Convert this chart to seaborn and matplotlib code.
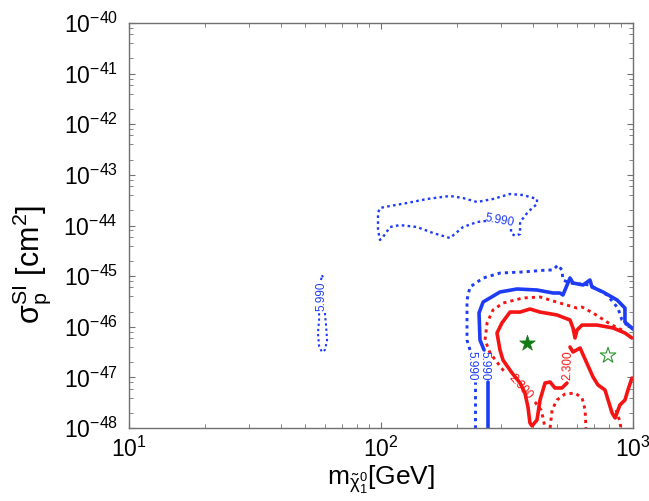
import numpy as np
import matplotlib
matplotlib.use("Agg")
import matplotlib.pyplot as plt
from matplotlib.ticker import LogLocator, LogFormatterMathtext
import seaborn as sns

# ---- contour traces: neutralino mass [GeV] and SI cross-section [cm^2] ----
# blue dotted island around 1e-44 (label 5.990)
island_m = [261.1, 240.4, 211.6, 187.8, 160.8, 139.0, 118.9, 108.6, 101.9, 99.1,
            97.3, 97.3, 99.1, 108.6, 126.8, 152.3, 187.8, 211.6, 240.4, 278.1,
            325.1, 365.9, 415.9, 415.9, 383.0, 356.4, 356.4, 340.4, 328.1, 328.1]
island_s = [1.23e-44, 1.17e-44, 9.33e-45, 5.66e-45, 7.11e-45, 9.33e-45, 1.02e-44, 9.33e-45, 5.93e-45, 5.18e-45,
            8.15e-45, 1.77e-44, 2.22e-44, 2.43e-44, 2.78e-44, 3.34e-44, 3.83e-44, 3.49e-44, 2.91e-44, 3.34e-44,
            4.19e-44, 4.00e-44, 3.34e-44, 2.66e-44, 1.85e-44, 1.17e-44, 6.79e-45, 6.21e-45, 7.11e-45, 9.33e-45]

# small blue dotted island near 60 GeV
sliver_m = [59.9, 60.5, 61.1, 59.9, 58.3, 56.8, 56.2, 56.8, 56.8]
sliver_s = [1.87e-46, 1.08e-46, 5.47e-47, 3.48e-47, 3.17e-47, 4.17e-47, 7.53e-47, 1.36e-46, 1.87e-46]
sliver_cap_m = [57.8, 58.3, 59.4]
sliver_cap_s = [8.38e-46, 1.05e-45, 8.38e-46]

# blue dotted, large region (two pieces either side of its label)
bdot_low_m = [236.1, 236.1]
bdot_low_s = [1.0e-48, 8.10e-48]
bdot_m = [225.5, 219.4, 219.4, 225.5, 254.2, 296.6, 365.9, 456.0, 481.9, 503.6,
          522.4, 527.2, 562.3, 674.8, 788.8, 871.6, 903.7, 946.2, 1000.0]
bdot_s = [3.48e-47, 5.47e-47, 3.37e-46, 6.10e-46, 9.18e-46, 1.15e-45, 1.21e-45, 1.32e-45, 1.32e-45, 1.66e-45,
          1.32e-45, 8.38e-46, 7.31e-46, 6.68e-46, 4.24e-46, 2.34e-46, 1.36e-46, 1.08e-46, 9.45e-47]

# blue solid
bsol_low_m = [265.9, 265.9]
bsol_low_s = [1.0e-48, 8.10e-48]
bsol_m = [256.4, 247.1, 244.9, 254.2, 296.6, 346.7, 415.9, 481.9, 512.9, 527.2,
          562.3, 578.0, 633.8, 674.8, 687.5, 760.3, 865.0, 929.0, 929.0, 1000.0]
bsol_s = [3.48e-47, 5.47e-47, 1.87e-46, 3.08e-46, 4.86e-46, 5.57e-46, 5.32e-46, 4.64e-46, 4.64e-46, 4.24e-46,
          9.18e-46, 7.31e-46, 6.68e-46, 8.38e-46, 6.10e-46, 4.86e-46, 3.37e-46, 2.34e-46, 1.24e-46, 9.0e-47]

# red dotted (label 2.300)
rdot_m = [903.7, 826.0, 788.8, 693.9, 628.0, 599.7, 512.9, 427.6, 365.9, 304.8,
          278.1, 263.6, 258.7, 270.9, 304.8, 316.2]
rdot_s = [8.63e-47, 1.08e-46, 1.24e-46, 1.87e-46, 2.45e-46, 2.34e-46, 2.94e-46, 3.87e-46, 3.70e-46, 2.94e-46,
          2.14e-46, 1.19e-46, 5.47e-47, 3.03e-47, 1.40e-47, 1.22e-47]
rdot_tail_m = [408.3, 431.5, 439.6, 447.7]
rdot_tail_s = [3.27e-48, 2.27e-48, 1.58e-48, 1.0e-48]
rdot_arch_m = [468.8, 477.5, 499.0, 537.0, 588.8, 628.0, 645.6, 650.5]
rdot_arch_s = [1.0e-48, 2.27e-48, 3.57e-48, 4.69e-48, 4.91e-48, 3.91e-48, 2.27e-48, 1.0e-48]
rdot_edge_m = [857.0, 883.0, 895.5]
rdot_edge_s = [2.27e-48, 1.44e-48, 1.0e-48]

# red solid (label 2.300)
rsol_m = [547.0, 522.4, 490.0, 468.8, 447.7, 427.6, 415.9, 397.3, 390.0, 383.0,
          372.5, 356.4, 331.1, 304.8, 296.6, 288.6, 302.0, 325.1, 356.4, 390.0,
          427.6, 499.0, 562.3, 578.0, 588.8, 599.7, 628.0, 719.5, 833.7, 929.0, 990.8]
rsol_s = [7.74e-48, 6.17e-48, 6.17e-48, 8.10e-48, 7.74e-48, 3.57e-48, 1.44e-48, 1.10e-48, 1.26e-48, 2.60e-48,
          4.91e-48, 7.74e-48, 1.22e-47, 2.20e-47, 3.48e-47, 7.53e-47, 1.19e-46, 1.95e-46, 1.95e-46, 2.24e-46,
          1.95e-46, 1.71e-46, 1.36e-46, 9.45e-47, 6.0e-47, 8.63e-47, 1.08e-46, 1.08e-46, 9.45e-47, 7.53e-47, 6.0e-47]
rsol_b_m = [562.3, 578.0, 616.6, 693.9, 726.1, 774.4, 826.0, 849.2, 887.2, 929.0, 955.0, 990.8]
rsol_b_s = [3.98e-47, 3.17e-47, 3.80e-47, 1.02e-47, 7.07e-48, 5.63e-48, 1.98e-48, 1.58e-48, 2.85e-48, 3.57e-48,
            5.63e-48, 9.72e-48]

# benchmark points
best_m, best_s = [379.6], [4.78e-47]
alt_m, alt_s = [796.0], [2.70e-47]

# contour labels: (text, mass, sigma, rotation, colour key)
contour_labels = [
    ("5.990", 296.6, 1.26e-44, -10, "blue"),
    ("5.990", 58.1, 4.05e-46, 90, "blue"),
    ("5.990", 229.6, 1.68e-47, 270, "blue"),
    ("5.990", 256.4, 1.68e-47, 270, "blue"),
    ("2.300", 356.4, 6.45e-48, -48, "red"),
    ("2.300", 549.8, 1.75e-47, 88, "red"),
]

BLUE = "#1f3cf5"
RED = "#f51414"
GREEN = "#127a12"
FRAME = "#707070"
DOT = (0, (1.1, 1.4))

sns.set_theme(style="ticks")
plt.rcParams.update({
    "font.family": ["Liberation Sans", "DejaVu Sans"],
    "mathtext.fontset": "custom",
    "mathtext.rm": "Liberation Sans",
    "mathtext.it": "Liberation Sans:italic",
    "mathtext.bf": "Liberation Sans:bold",
    "mathtext.default": "regular",
})

fig = plt.figure(figsize=(6.49, 5.01), dpi=100)
ax = fig.add_axes([129 / 649, 1 - 428 / 501, 504 / 649, 405 / 501])
ax.set_xscale("log")
ax.set_yscale("log")


def trace(m, s, color, style, lw):
    sns.lineplot(x=m, y=s, sort=False, estimator=None, color=color,
                 linestyle=style, linewidth=lw, ax=ax)


trace(island_m, island_s, BLUE, DOT, 1.7)
trace(sliver_m, sliver_s, BLUE, DOT, 1.5)
trace(sliver_cap_m, sliver_cap_s, BLUE, DOT, 1.5)
trace(bdot_low_m, bdot_low_s, BLUE, DOT, 2.1)
trace(bdot_m, bdot_s, BLUE, DOT, 2.1)
trace(bsol_low_m, bsol_low_s, BLUE, "-", 2.6)
trace(bsol_m, bsol_s, BLUE, "-", 2.6)
trace(rdot_m, rdot_s, RED, DOT, 2.1)
trace(rdot_tail_m, rdot_tail_s, RED, DOT, 2.1)
trace(rdot_arch_m, rdot_arch_s, RED, DOT, 2.1)
trace(rdot_edge_m, rdot_edge_s, RED, DOT, 2.1)
trace(rsol_m, rsol_s, RED, "-", 2.6)
trace(rsol_b_m, rsol_b_s, RED, "-", 2.6)

sns.scatterplot(x=best_m, y=best_s, marker="*", s=140, color=GREEN,
                edgecolor=GREEN, linewidth=0.5, ax=ax, zorder=5)
sns.scatterplot(x=alt_m, y=alt_s, marker="*", s=140, facecolors="none",
                edgecolor="#2a962a", linewidth=0.8, ax=ax, zorder=5)

for txt, m, s, rot, ck in contour_labels:
    ax.text(m, s, txt, rotation=rot, rotation_mode="anchor", ha="center", va="center",
            fontsize=8.5, color=BLUE if ck == "blue" else RED)

ax.set_xlim(10, 1000)
ax.set_ylim(1e-48, 1e-40)
ax.xaxis.set_major_locator(LogLocator(base=10, numticks=20))
ax.xaxis.set_minor_locator(LogLocator(base=10, subs=np.arange(2, 10), numticks=100))
ax.yaxis.set_major_locator(LogLocator(base=10, numticks=20))
ax.yaxis.set_minor_locator(LogLocator(base=10, subs=(2, 4, 6, 8), numticks=100))
ax.xaxis.set_major_formatter(LogFormatterMathtext())
ax.yaxis.set_major_formatter(LogFormatterMathtext())
ax.tick_params(which="both", direction="in", top=True, right=True, color=FRAME)
ax.tick_params(which="major", length=4.5, width=0.8, labelsize=16.5, labelcolor="black")
ax.tick_params(axis="y", which="major", pad=8)
ax.tick_params(axis="x", which="major", pad=6)
ax.tick_params(which="minor", length=3, width=0.6)
for sp in ax.spines.values():
    sp.set_color(FRAME)
    sp.set_linewidth(1.0)
ax.grid(False)

ax.set_xlabel(r"m$_{\tilde{\chi}_1^0}$[GeV]", fontsize=19, color="black", labelpad=2)
ax.set_ylabel(r"σ$_p^{SI}$ [cm$^2$]", fontsize=22, color="black")
ax.yaxis.set_label_coords(-0.15, 0.405)

fig.savefig("out.png", dpi=100, facecolor="white")
